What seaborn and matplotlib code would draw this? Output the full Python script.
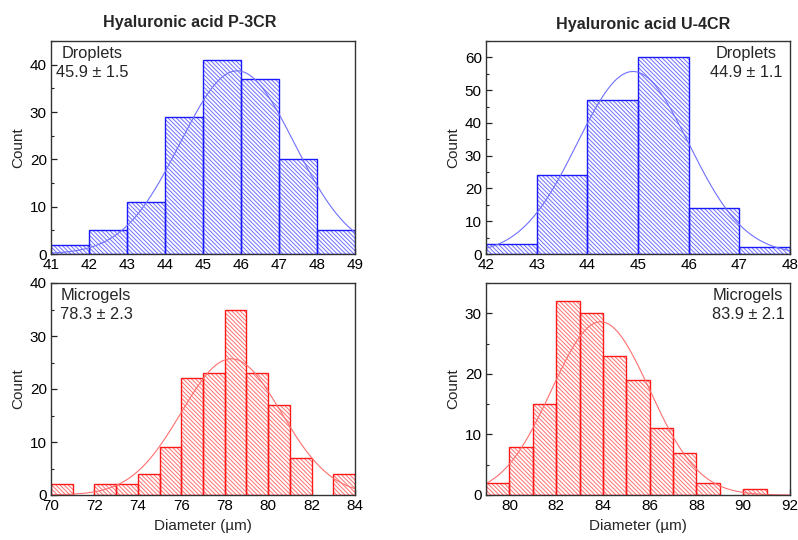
import numpy as np
import pandas as pd
import matplotlib
matplotlib.use("Agg")
import matplotlib.pyplot as plt
import seaborn as sns
from matplotlib.ticker import MultipleLocator

sns.set_theme(style="white")
plt.rcParams["font.family"] = ["Liberation Sans", "DejaVu Sans"]
plt.rcParams["hatch.linewidth"] = 0.7

# Bin edges (µm) and counts for each size distribution
p3cr_drop_edges = [41, 42, 43, 44, 45, 46, 47, 48, 49]
p3cr_drop_counts = [2, 5, 11, 29, 41, 37, 20, 5]

u4cr_drop_edges = [42, 43, 44, 45, 46, 47, 48]
u4cr_drop_counts = [3, 24, 47, 60, 14, 2]

p3cr_gel_edges = [70, 71, 72, 73, 74, 75, 76, 77, 78, 79, 80, 81, 82, 83, 84]
p3cr_gel_counts = [2, 0, 2, 2, 4, 9, 22, 23, 35, 23, 17, 7, 0, 4]

u4cr_gel_edges = [79, 80, 81, 82, 83, 84, 85, 86, 87, 88, 89, 90, 91]
u4cr_gel_counts = [2, 8, 15, 32, 30, 23, 19, 11, 7, 2, 0, 1]

# Gaussian fit: mean, standard deviation, peak height
p3cr_drop_fit = [45.9, 1.5, 38.7]
u4cr_drop_fit = [44.9, 1.1, 55.7]
p3cr_gel_fit = [78.3, 2.3, 25.7]
u4cr_gel_fit = [83.9, 2.1, 28.6]

titles = ["Hyaluronic acid P-3CR", "Hyaluronic acid U-4CR"]

W, H = 798, 540
fig = plt.figure(figsize=(W / 100, H / 100), dpi=100)


def px_axes(l, t, r, b):
    return fig.add_axes([l / W, 1 - b / H, (r - l) / W, (b - t) / H])


BLUE, BLUE_L = "#1a1aff", "#6f6fff"
RED, RED_L = "#ff1a1a", "#ff6f6f"
HATCH = "\\" * 8

panels = [
    dict(box=(51, 41, 355, 254), edges=p3cr_drop_edges, counts=p3cr_drop_counts,
         fit=p3cr_drop_fit, c=BLUE, cl=BLUE_L, xlim=(41, 49), ylim=(0, 45),
         xmaj=1, xmin=0.5, ymaj=10, label="Droplets\n45.9 ± 1.5", lx=92, ly=46, xlabel=False),
    dict(box=(486, 41, 790, 254), edges=u4cr_drop_edges, counts=u4cr_drop_counts,
         fit=u4cr_drop_fit, c=BLUE, cl=BLUE_L, xlim=(42, 48), ylim=(0, 65),
         xmaj=1, xmin=0.5, ymaj=10, label="Droplets\n44.9 ± 1.1", lx=746, ly=46, xlabel=False),
    dict(box=(51, 283, 355, 495), edges=p3cr_gel_edges, counts=p3cr_gel_counts,
         fit=p3cr_gel_fit, c=RED, cl=RED_L, xlim=(70, 84), ylim=(0, 40),
         xmaj=2, xmin=1, ymaj=10, label="Microgels\n78.3 ± 2.3", lx=96, ly=288, xlabel=True),
    dict(box=(486, 283, 790, 495), edges=u4cr_gel_edges, counts=u4cr_gel_counts,
         fit=u4cr_gel_fit, c=RED, cl=RED_L, xlim=(79, 92), ylim=(0, 35),
         xmaj=2, xmin=1, ymaj=10, label="Microgels\n83.9 ± 2.1", lx=748, ly=288, xlabel=True),
]

for p in panels:
    ax = px_axes(*p["box"])
    edges = [float(e) for e in p["edges"]]
    centers = [(a + b) / 2 for a, b in zip(edges[:-1], edges[1:])]
    df = pd.DataFrame({"d": centers, "n": p["counts"]})

    # hatched fill
    sns.histplot(data=df, x="d", weights="n", bins=edges, ax=ax, stat="count",
                 element="bars", fill=True, color="white", alpha=1, linewidth=0)
    for patch in ax.patches:
        patch.set_facecolor("white")
        patch.set_edgecolor(p["cl"])
        patch.set_hatch(HATCH)
        patch.set_linewidth(0)
        if patch.get_height() == 0:
            patch.set_visible(False)
    n_fill = len(ax.patches)

    # bar outlines
    sns.histplot(data=df, x="d", weights="n", bins=edges, ax=ax, stat="count",
                 element="bars", fill=False, color=p["c"], linewidth=1.0)
    for patch in ax.patches[n_fill:]:
        patch.set_edgecolor(p["c"])
        if patch.get_height() == 0:
            patch.set_visible(False)

    # Gaussian fit curve
    mu, sd, amp = p["fit"]
    xs = np.linspace(p["xlim"][0], p["xlim"][1], 400)
    fit_df = pd.DataFrame({"x": xs, "y": amp * np.exp(-0.5 * ((xs - mu) / sd) ** 2)})
    sns.lineplot(data=fit_df, x="x", y="y", ax=ax, color=p["cl"], linewidth=0.8)

    ax.set_xlim(*p["xlim"])
    ax.set_ylim(*p["ylim"])
    ax.xaxis.set_major_locator(MultipleLocator(p["xmaj"]))
    ax.xaxis.set_minor_locator(MultipleLocator(p["xmin"]))
    ax.yaxis.set_major_locator(MultipleLocator(p["ymaj"]))
    ax.yaxis.set_minor_locator(MultipleLocator(p["ymaj"] / 2))
    ax.tick_params(which="both", direction="in", bottom=True, left=True,
                   top=False, right=False, colors="#222222", labelcolor="black",
                   labelsize=11, pad=3)
    ax.tick_params(which="major", length=4, width=0.9)
    ax.tick_params(which="minor", length=2.5, width=0.8)
    for s in ax.spines.values():
        s.set_color("#333333")
        s.set_linewidth(1.0)
    ax.set_ylabel("Count", fontsize=11, labelpad=3)
    if p["xlabel"]:
        ax.set_xlabel("Diameter (µm)", fontsize=11, labelpad=4)
    else:
        ax.set_xlabel("")

    fig.text(p["lx"] / W, 1 - p["ly"] / H, p["label"], ha="center", va="top",
             multialignment="center", fontsize=11.8, linespacing=1.3)

fig.text(190 / W, 1 - 23 / H, titles[0], ha="center", va="center",
         fontsize=11.6, fontweight="bold")
fig.text(643 / W, 1 - 25 / H, titles[1], ha="center", va="center",
         fontsize=11.6, fontweight="bold")

fig.savefig("out.png", dpi=100, facecolor="white")
